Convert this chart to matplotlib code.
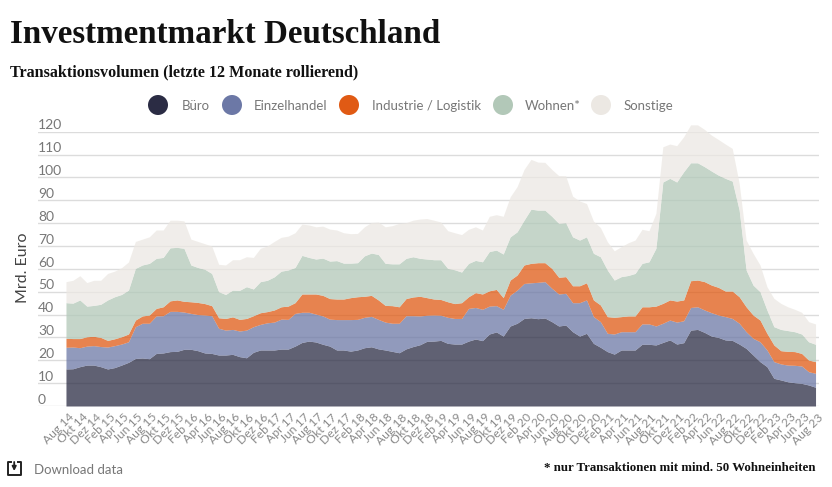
"""Investmentmarkt Deutschland: stacked area chart, rolling 12 month volume."""

import matplotlib
matplotlib.use("Agg")
import matplotlib.pyplot as plt
import numpy as np
from matplotlib.patches import Ellipse
from matplotlib.transforms import ScaledTranslation

# Upper edge of each stacked band in Mrd. Euro, one value per month (Aug 14 - Aug 23).
buero_top = [
    16.2, 16.3, 17.2, 17.9, 17.9, 17.2, 16.2, 16.8, 17.9, 19.1, 20.8, 21.0, 20.7, 23.0, 23.2, 23.8,
    23.9, 24.8, 24.8, 24.2, 23.2, 23.0, 22.3, 22.3, 22.6, 21.6, 21.1, 23.5, 24.5, 24.5, 24.5, 24.9,
    24.9, 26.2, 27.8, 28.4, 28.0, 27.0, 26.2, 24.5, 24.5, 24.0, 24.5, 25.5, 25.9, 25.0, 24.5, 23.9,
    23.3, 25.0, 26.0, 26.8, 28.3, 28.4, 28.7, 27.4, 27.1, 27.1, 28.4, 29.3, 28.6, 31.5, 32.4, 30.6,
    35.0, 36.2, 38.3, 38.6, 38.2, 38.5, 36.9, 35.0, 35.4, 32.5, 30.6, 31.8, 27.4, 25.7, 23.8, 22.7,
    24.5, 24.5, 24.5, 27.0, 27.0, 26.7, 27.8, 28.9, 27.1, 27.7, 33.2, 33.5, 32.2, 30.6, 30.0, 28.9,
    28.7, 27.1, 25.2, 22.3, 19.4, 17.2, 12.1, 11.4, 10.6, 10.2, 9.9, 9.2, 8.2,
]
einzelhandel_top = [
    25.7, 25.8, 25.5, 26.2, 26.4, 26.0, 25.8, 26.4, 27.1, 28.1, 34.7, 36.2, 36.2, 39.4, 39.5, 41.4,
    41.4, 41.1, 40.5, 40.0, 39.8, 39.5, 34.0, 33.2, 33.5, 32.8, 33.2, 34.7, 35.7, 36.4, 36.7, 38.0,
    37.9, 40.5, 41.0, 41.0, 40.2, 39.4, 38.0, 37.8, 37.8, 37.8, 37.9, 38.8, 39.2, 37.9, 36.7, 36.2,
    36.2, 39.5, 39.5, 39.4, 39.7, 39.8, 39.7, 38.8, 38.3, 38.3, 42.7, 43.1, 42.3, 43.7, 43.9, 42.3,
    48.5, 50.7, 53.6, 53.9, 54.1, 54.4, 51.5, 49.0, 49.3, 45.2, 45.2, 46.4, 39.1, 36.9, 31.8, 31.5,
    32.5, 32.5, 32.5, 35.9, 35.9, 35.0, 36.2, 37.6, 36.7, 37.3, 43.1, 43.4, 42.0, 40.8, 39.8, 39.1,
    38.3, 36.2, 32.5, 29.6, 28.1, 24.5, 19.4, 18.4, 17.9, 17.8, 17.5, 15.0, 14.3,
]
industrie_top = [
    29.6, 29.5, 29.5, 30.3, 30.5, 30.0, 28.7, 29.4, 30.3, 31.5, 37.6, 39.4, 39.8, 42.7, 43.4, 46.0,
    46.4, 45.8, 45.6, 45.3, 44.8, 43.9, 38.6, 38.3, 39.0, 37.9, 38.3, 39.5, 40.8, 41.3, 42.0, 43.4,
    43.7, 45.2, 49.0, 49.0, 49.0, 48.4, 47.0, 46.8, 46.8, 47.4, 47.8, 48.0, 48.4, 46.4, 44.0, 43.9,
    43.4, 47.0, 47.7, 48.0, 47.4, 46.8, 46.6, 45.6, 44.8, 45.2, 47.8, 49.6, 49.0, 50.4, 51.0, 47.4,
    55.1, 57.3, 61.7, 62.4, 62.7, 62.7, 60.2, 56.3, 56.6, 52.6, 52.6, 53.9, 46.4, 44.2, 39.1, 38.8,
    39.1, 39.4, 39.4, 43.4, 43.4, 43.7, 44.9, 46.4, 45.9, 46.4, 54.8, 55.1, 54.4, 52.9, 51.9, 50.3,
    50.3, 47.8, 43.4, 39.8, 37.6, 31.8, 26.7, 24.2, 23.9, 23.8, 23.0, 20.1, 19.4,
]
wohnen_top = [
    45.2, 45.0, 46.4, 43.7, 44.0, 44.5, 46.4, 47.8, 48.8, 50.7, 60.2, 61.7, 62.4, 64.6, 65.0, 69.2,
    69.4, 69.0, 61.7, 60.6, 59.8, 58.0, 50.0, 48.8, 50.7, 50.6, 52.2, 51.2, 54.4, 55.0, 56.5, 59.0,
    59.5, 60.6, 65.9, 65.0, 64.3, 64.7, 63.4, 63.6, 62.5, 62.5, 62.7, 65.7, 66.9, 66.3, 62.4, 62.2,
    62.2, 64.6, 65.3, 64.6, 64.3, 64.0, 64.0, 60.2, 59.6, 58.6, 62.4, 63.7, 63.1, 67.6, 68.2, 66.5,
    74.0, 76.2, 81.3, 86.1, 85.7, 85.7, 83.0, 79.9, 80.2, 74.0, 72.6, 74.0, 66.8, 65.3, 59.5, 55.1,
    56.6, 57.1, 58.0, 62.4, 63.1, 69.0, 98.0, 99.6, 98.0, 102.5, 106.4, 106.4, 104.7, 102.8, 101.0, 99.6,
    98.4, 85.7, 59.5, 52.9, 50.0, 42.0, 34.7, 33.5, 33.0, 32.5, 31.5, 28.1, 27.0,
]
sonstige_top = [
    54.4, 55.0, 57.0, 54.0, 55.0, 55.0, 58.0, 59.0, 60.5, 63.0, 72.0, 73.0, 74.0, 77.0, 77.0, 81.3,
    81.3, 81.0, 73.0, 72.0, 71.0, 70.0, 62.0, 61.7, 64.0, 64.0, 65.3, 65.0, 69.0, 70.0, 72.0, 73.8,
    74.3, 75.8, 79.6, 79.2, 78.4, 78.7, 77.4, 77.0, 75.8, 75.4, 75.5, 78.4, 80.3, 80.5, 78.4, 78.9,
    79.9, 80.2, 81.3, 81.8, 82.0, 81.3, 80.5, 76.7, 75.8, 75.0, 77.3, 78.4, 77.0, 83.0, 83.7, 83.0,
    91.5, 96.0, 103.5, 107.9, 106.7, 106.6, 103.5, 100.8, 100.7, 91.8, 89.7, 88.6, 80.9, 78.1, 71.9, 67.9,
    69.7, 71.4, 72.6, 77.3, 76.7, 84.3, 113.4, 114.6, 113.9, 117.8, 123.0, 123.0, 121.0, 118.5, 116.6, 114.6,
    112.7, 97.4, 72.6, 66.8, 61.7, 52.2, 47.1, 44.9, 43.4, 42.3, 41.0, 36.9, 35.9,
]

names = ["Büro", "Einzelhandel", "Industrie / Logistik", "Wohnen*", "Sonstige"]
colors = ["#2b2c44", "#6c78a6", "#e05a14", "#b2c8b8", "#ece8e3"]
y_ticks = [0, 10, 20, 30, 40, 50, 60, 70, 80, 90, 100, 110, 120]

month_names = ["Aug", "Okt", "Dez", "Feb", "Apr", "Jun"]
x_labels = []
for i in range(55):
    year = 14 + (i + 3) // 6
    x_labels.append(f"{month_names[i % 6]} {year}")

SERIF = "Liberation Serif"
SANS = "Lato"
TEXT_GRAY = "#777777"

fig = plt.figure(figsize=(8.32, 4.87), dpi=100)
ax = fig.add_axes([38 / 832, (487 - 406) / 487, (819 - 38) / 832, 274.3 / 487])

# Plain pixel overlay for titles, legend and the download icon.
page = fig.add_axes([0, 0, 1, 1], zorder=5)
page.set_xlim(0, 832)
page.set_ylim(487, 0)
page.axis("off")

months = np.arange(len(buero_top))
tops = [buero_top, einzelhandel_top, industrie_top, wohnen_top, sonstige_top]
lower = np.zeros(len(months))
for top, color, name in zip(tops, colors, names):
    ax.fill_between(months, lower, top, color=color, alpha=0.75, linewidth=0, zorder=3,
                    label=name, clip_on=False)
    lower = np.array(top)

ax.set_xlim(-4.03, 108.5)
ax.set_ylim(0, 120)
for spine in ax.spines.values():
    spine.set_visible(False)
ax.grid(axis="y", color="#dcdcdc", linewidth=1.0, zorder=1)
ax.set_axisbelow(True)

ax.set_yticks(y_ticks)
ax.tick_params(axis="both", length=0)
ax.tick_params(axis="y", pad=0, labelsize=10, labelcolor=TEXT_GRAY)
for label in ax.get_yticklabels():
    label.set_ha("left")
    label.set_va("bottom")
    label.set_family(SANS)
    label.set_transform(label.get_transform() + ScaledTranslation(0, 0.2 / 72, fig.dpi_scale_trans))

ax.set_xticks(months[::2])
ax.set_xticklabels(x_labels, rotation=45, ha="right", va="top", rotation_mode="anchor",
                   family=SANS, fontsize=8.7, color="#8a8a8a")
ax.tick_params(axis="x", pad=4)
shift = ScaledTranslation(1.4 / 72, 0, fig.dpi_scale_trans)
for label in ax.get_xticklabels():
    label.set_transform(label.get_transform() + shift)

page.text(10, 43, "Investmentmarkt Deutschland", family=SERIF, weight="bold", fontsize=23.8, color="#111111")
page.text(10, 76, "Transaktionsvolumen (letzte 12 Monate rollierend)", family=SERIF, weight="bold",
          fontsize=11.6, color="#111111")
page.text(815, 471, "* nur Transaktionen mit mind. 50 Wohneinheiten", family=SERIF, weight="bold",
          fontsize=9.3, color="#111111", ha="right")

# Legend, laid out by hand because the gaps are not even.
legend_x = [158, 232, 349, 503, 601]
legend_text_x = [182, 254, 372, 525, 624]
for cx, tx, name, color in zip(legend_x, legend_text_x, names, colors):
    page.add_patch(Ellipse((cx, 105), 20, 20, color=color, linewidth=0))
    page.text(tx, 106, name, family=SANS, fontsize=9.5, color=TEXT_GRAY, va="center")

page.text(23, 268, "Mrd. Euro", family=SANS, fontsize=11.5, color="#444444", rotation=90,
          va="center", ha="center")

# Download icon and link text.
page.plot([11, 7.5, 7.5, 21, 21, 17.5], [462, 462, 475, 475, 462, 462], color="#222222", linewidth=1.4)
page.annotate("", xy=(14.2, 471), xytext=(14.2, 462),
              arrowprops=dict(arrowstyle="-|>", color="#222222", lw=1.3, mutation_scale=6, shrinkA=0, shrinkB=0))
page.text(34, 470, "Download data", family=SANS, fontsize=9.5, color=TEXT_GRAY, va="center")

fig.savefig("out.png", dpi=100)
plt.close(fig)
